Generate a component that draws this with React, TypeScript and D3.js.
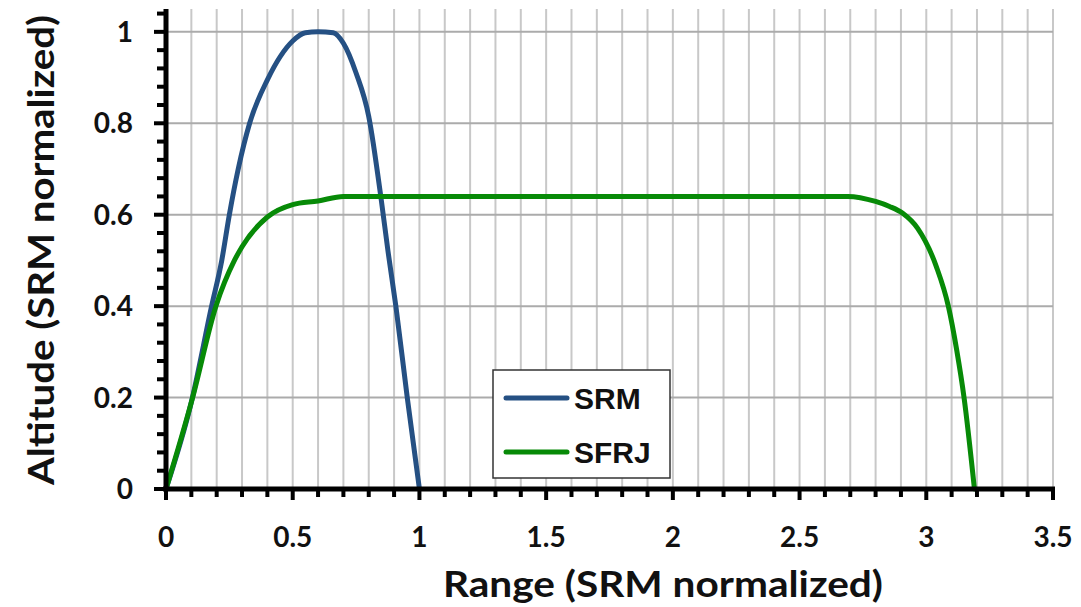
import React from "react";
import * as d3 from "d3";

const srmX = [0, 0.1, 0.18, 0.22, 0.25, 0.285, 0.33, 0.4, 0.5, 0.55, 0.6, 0.66, 0.7, 0.75, 0.8, 0.85, 0.876, 0.907, 0.952, 1.0];
const srmY = [0, 0.19, 0.4, 0.5, 0.6, 0.7, 0.8, 0.895, 0.98, 0.998, 1.0, 0.998, 0.975, 0.91, 0.815, 0.63, 0.52, 0.4, 0.2, 0];

const sfrjX = [0, 0.105, 0.197, 0.27, 0.3, 0.4, 0.5, 0.6, 0.7, 1.0, 1.5, 2.0, 2.5, 2.69, 2.8, 2.855, 2.907, 2.966, 3.04, 3.087, 3.12, 3.149, 3.19];
const sfrjY = [0, 0.2, 0.4, 0.5, 0.53, 0.595, 0.622, 0.63, 0.64, 0.64, 0.64, 0.64, 0.64, 0.64, 0.629, 0.618, 0.603, 0.57, 0.486, 0.4, 0.304, 0.2, 0];

const xTickLabels = ["0", "0.5", "1", "1.5", "2", "2.5", "3", "3.5"];
const yTickLabels = ["0", "0.2", "0.4", "0.6", "0.8", "1"];
const seriesNames = ["SRM", "SFRJ"];

const W = 1081, H = 607;
const x = d3.scaleLinear().domain([0, 3.5]).range([166, 1053]);
const y = d3.scaleLinear().domain([0, 1.05]).range([489, 9]);

const line = d3.line<[number, number]>()
  .x(d => x(d[0]))
  .y(d => y(d[1]))
  .curve(d3.curveMonotoneX);

const zip = (a: number[], b: number[]) => a.map((v, i) => [v, b[i]] as [number, number]);

const tickFont = "Lato, 'Open Sans', sans-serif";

export default function App() {
  const xMinor = d3.range(0, 36).map(i => i / 10);
  const yMinor = d3.range(0, 27).map(i => i * 0.04);
  const yMajor = yTickLabels.map(Number);
  const xMajor = xTickLabels.map(Number);
  const colors = ["#255083", "#078a07"];
  const data = [zip(srmX, srmY), zip(sfrjX, sfrjY)];
  return (
    <svg width={W} height={H} style={{ position: "absolute", left: 0, top: 0, background: "#fff" }}>
      {xMinor.slice(1).map((v, i) => (
        <line key={"vg" + i} x1={x(v)} x2={x(v)} y1={y(1.05)} y2={y(0)} stroke="#c8c8c8" strokeWidth={2} />
      ))}
      {yMajor.slice(1).map((v, i) => (
        <line key={"hg" + i} x1={x(0)} x2={x(3.5)} y1={y(v)} y2={y(v)} stroke="#ababab" strokeWidth={2} />
      ))}
      {data.map((d, i) => (
        <path key={"s" + i} d={line(d) || ""} fill="none" stroke={colors[i]} strokeWidth={5} strokeLinejoin="round" strokeLinecap="round" />
      ))}
      <line x1={x(0)} x2={x(0)} y1={y(1.05)} y2={y(0) + 2} stroke="#000" strokeWidth={5} />
      {yMinor.map((v, i) => {
        const major = Math.abs(v / 0.2 - Math.round(v / 0.2)) < 1e-6;
        return <line key={"yt" + i} x1={x(0) - (major ? 12 : 9)} x2={x(0)} y1={y(v)} y2={y(v)} stroke="#000" strokeWidth={4} />;
      })}
      <line x1={x(0) - 3} x2={x(3.5) + 2} y1={y(0)} y2={y(0)} stroke="#000" strokeWidth={5} />
      {xMinor.concat([3.5]).map((v, i) => {
        const major = Math.abs(v / 0.5 - Math.round(v / 0.5)) < 1e-6;
        return <line key={"xt" + i} x1={x(v)} x2={x(v)} y1={y(0)} y2={y(0) + (major ? 11 : 8)} stroke="#000" strokeWidth={4} />;
      })}
      {yMajor.map((v, i) => (
        <text key={"yl" + i} x={133} y={y(v) + 10} textAnchor="end" fontFamily={tickFont} fontWeight={700} fontSize={28} fill="#111">{yTickLabels[i]}</text>
      ))}
      {xMajor.map((v, i) => (
        <text key={"xl" + i} x={x(v)} y={547} textAnchor="middle" fontFamily={tickFont} fontWeight={700} fontSize={28} fill="#111">{xTickLabels[i]}</text>
      ))}
      <text x={663} y={597} textAnchor="middle" fontFamily={tickFont} fontWeight={700} fontSize={37} textLength={440} lengthAdjust="spacingAndGlyphs" fill="#111">Range (SRM normalized)</text>
      <text transform={`translate(54,250) rotate(-90)`} textAnchor="middle" fontFamily={tickFont} fontWeight={700} fontSize={37} textLength={470} lengthAdjust="spacingAndGlyphs" fill="#111">Altitude (SRM normalized)</text>
      <rect x={493} y={370} width={177} height={108} fill="#fff" stroke="#333" strokeWidth={1.5} />
      {seriesNames.map((n, i) => (
        <g key={"lg" + i}>
          <line x1={506} x2={567} y1={398 + i * 54} y2={398 + i * 54} stroke={colors[i]} strokeWidth={5} strokeLinecap="round" />
          <text x={574} y={398 + i * 54 + 11} fontFamily="'Liberation Sans', Arial, sans-serif" fontWeight={700} fontSize={30} fill="#111">{n}</text>
        </g>
      ))}
    </svg>
  );
}
